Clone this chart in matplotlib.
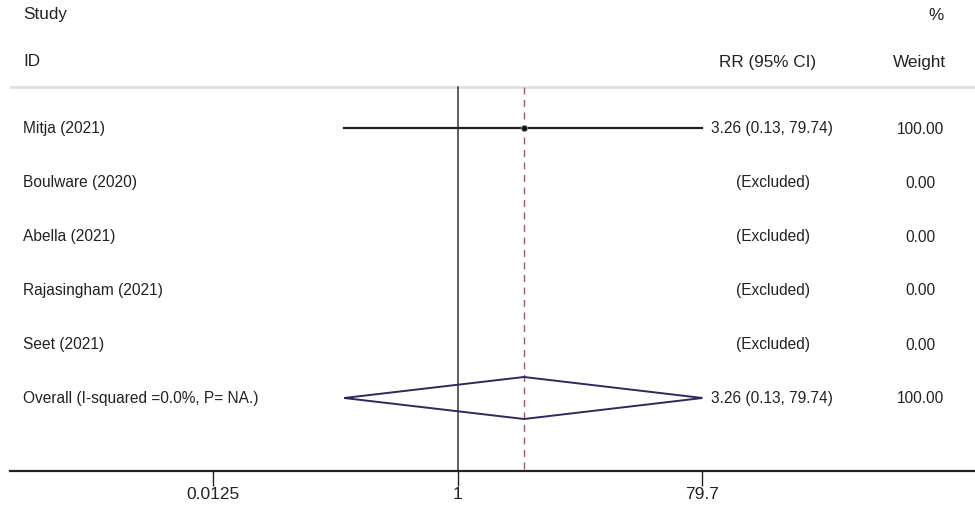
import matplotlib
matplotlib.use("Agg")
import matplotlib.pyplot as plt
import numpy as np

plt.rcParams['font.family'] = ['Liberation Sans', 'DejaVu Sans']

studies = ["Mitja (2021)", "Boulware (2020)", "Abella (2021)", "Rajasingham (2021)", "Seet (2021)"]
rr = [3.26, None, None, None, None]
lo = [0.13, None, None, None, None]
hi = [79.74, None, None, None, None]
weights = ["100.00", "0.00", "0.00", "0.00", "0.00"]
overall_label = "Overall (I-squared =0.0%, P= NA.)"
overall_rr, overall_lo, overall_hi = 3.26, 0.13, 79.74
overall_weight = "100.00"
xticks = [0.0125, 1, 79.7]
xtick_labels = ["0.0125", "1", "79.7"]

W, H = 975, 510
FS_ROW = 11.2
FS_HEAD = 12.3
TXT = '#222222'

fig = plt.figure(figsize=(W / 100, H / 100), dpi=100)
# axes spans x=10..975 px, y=0..472 px (from top)
ax = fig.add_axes([10 / W, 1 - 472 / H, 1 - 10 / W, 472 / H])
ax.set_xscale('log')
k = np.log10(79.7 / 0.0125) / (702 - 213)
ax.set_xlim(10 ** ((10 - 458) * k), 10 ** ((975 - 458) * k))
ax.set_ylim((472 - 129) / 54, (0 - 129) / 54)

for s in ['top', 'right', 'left']:
    ax.spines[s].set_visible(False)
ax.spines['bottom'].set_linewidth(1.6)
ax.spines['bottom'].set_color(TXT)
ax.set_yticks([])
ax.set_xticks(xticks)
ax.set_xticklabels(xtick_labels, fontsize=12.5, color=TXT)
ax.xaxis.set_minor_locator(matplotlib.ticker.NullLocator())
ax.tick_params(axis='x', length=11, width=1.0, color=TXT, pad=0)

top_row = (88 - 129) / 54
ax.axhline(top_row, color='#e0e0e0', lw=2.0, zorder=0)
ax.plot([1, 1], [top_row, ax.get_ylim()[0]], color='#333333', lw=1.1, zorder=1)
ax.plot([overall_rr, overall_rr], [top_row, ax.get_ylim()[0]], color='#a5566a',
        lw=1.0, ls=(0, (5, 4)), zorder=1)

def ypx(p):
    return 1 - p / H

n = len(studies)
for i, name in enumerate(studies):
    yy = ypx(129 + 54 * i)
    fig.text(23 / W, yy, name, fontsize=FS_ROW, va='center', ha='left', color=TXT)
    if rr[i] is not None:
        ax.plot([lo[i], hi[i]], [i, i], color=TXT, lw=1.6, zorder=2)
        ax.plot([rr[i]], [i], marker='o', color='#111111', ms=4.5, mec='#999999', mew=0.6, zorder=3)
        txt = f"{rr[i]:.2f} ({lo[i]:.2f}, {hi[i]:.2f})"
        fig.text(711 / W, yy, txt, fontsize=FS_ROW, va='center', ha='left', color=TXT)
    else:
        fig.text(773 / W, yy, "(Excluded)", fontsize=FS_ROW, va='center', ha='center', color=TXT)
    fig.text(920 / W, yy, weights[i], fontsize=FS_ROW, va='center', ha='center', color=TXT)

yo = n
hh = 21 / 54
ax.fill([overall_lo, overall_rr, overall_hi, overall_rr, overall_lo],
        [yo, yo - hh, yo, yo + hh, yo], facecolor='none', edgecolor='#2c2a5a', lw=1.4, zorder=3)
yy = ypx(129 + 54 * n)
fig.text(23 / W, yy, overall_label, fontsize=FS_ROW, va='center', ha='left', color=TXT)
fig.text(711 / W, yy, f"{overall_rr:.2f} ({overall_lo:.2f}, {overall_hi:.2f})",
         fontsize=FS_ROW, va='center', ha='left', color=TXT)
fig.text(920 / W, yy, overall_weight, fontsize=FS_ROW, va='center', ha='center', color=TXT)

fig.text(23 / W, ypx(15), "Study", fontsize=FS_HEAD, va='center', ha='left', color=TXT)
fig.text(23 / W, ypx(62), "ID", fontsize=FS_HEAD, va='center', ha='left', color=TXT)
fig.text(768 / W, ypx(62), "RR (95% CI)", fontsize=FS_HEAD, va='center', ha='center', color=TXT)
fig.text(936 / W, ypx(15), "%", fontsize=FS_HEAD, va='center', ha='center', color=TXT)
fig.text(919 / W, ypx(62), "Weight", fontsize=FS_HEAD, va='center', ha='center', color=TXT)

fig.savefig("out.png", dpi=100)
